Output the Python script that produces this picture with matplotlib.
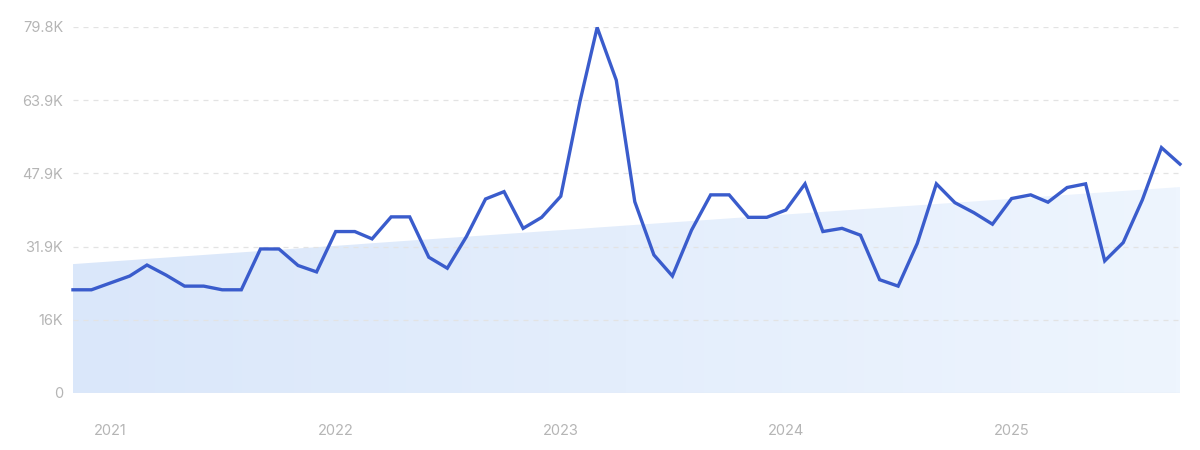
import numpy as np
import pandas as pd
import matplotlib
matplotlib.use('Agg')
from matplotlib import pyplot as plt
from matplotlib.colors import LinearSegmentedColormap
import matplotlib.dates as mdates

# monthly values, Nov 2020 .. Oct 2025
months = pd.date_range('2020-11-01', periods=60, freq='MS')
values = [
    22.5, 22.5, 24.0, 25.5, 27.9, 25.7, 23.3, 23.3, 22.5, 22.5,
    31.4, 31.4, 27.8, 26.4, 35.2, 35.2, 33.6, 38.4, 38.4, 29.6,
    27.2, 34.1, 42.3, 43.9, 35.9, 38.3, 42.9, 63.5, 79.7, 68.2,
    41.7, 30.1, 25.5, 35.5, 43.2, 43.2, 38.3, 38.3, 39.9, 45.6,
    35.2, 35.9, 34.4, 24.7, 23.3, 32.6, 45.6, 41.5, 39.3, 36.8,
    42.4, 43.2, 41.6, 44.8, 45.6, 28.8, 32.8, 42.1, 53.5, 49.9,
]
values = np.array(values) * 1000
# trend band start / end values
trend = [28100, 44900]
yticks = [0, 15960, 31920, 47880, 63840, 79800]
ytick_labels = ['0', '16K', '31.9K', '47.9K', '63.9K', '79.8K']
years = ['2021', '2022', '2023', '2024', '2025']

plt.rcParams['font.family'] = ['Inter', 'DejaVu Sans']

fig = plt.figure(figsize=(12, 4.5), dpi=100)
ax = fig.add_axes([0.0608, 0.1267, 0.9225, 0.8133])

x = mdates.date2num(months.to_pydatetime())
tr = np.linspace(trend[0], trend[1], len(x))

# gradient fill under trend line
poly = ax.fill_between(x, 0, tr, color='none', lw=0)
cmap = LinearSegmentedColormap.from_list('g', ['#dae7fa', '#eef5fe'])
grad = np.linspace(0, 1, 256).reshape(1, -1)
im = ax.imshow(grad, cmap=cmap, aspect='auto', origin='lower',
               extent=[x[0], x[-1], 0, trend[1]], zorder=1)
im.set_clip_path(poly.get_paths()[0], transform=ax.transData)

ax.plot(x, values, color='#3a5ccc', lw=2.4, zorder=3, clip_on=False,
        solid_joinstyle='miter')

ax.set_xlim(x[0], x[-1])
ax.set_ylim(0, 79800)
ax.set_yticks(yticks)
ax.set_yticklabels(ytick_labels)
for yv in yticks[1:]:
    ax.axhline(yv, color='#e3e3e3', lw=0.9, ls=(0, (4, 4)), zorder=2)
ax.axhline(0, color='#e4ebf6', lw=1, zorder=2)

ax.set_xticks([mdates.date2num(pd.Timestamp(y + '-01-01')) for y in years])
ax.set_xticklabels(years)

ax.tick_params(axis='both', length=0, colors='#b5b5b5', labelsize=10.5)
ax.tick_params(axis='y', pad=7)
ax.tick_params(axis='x', pad=22)
for s in ax.spines.values():
    s.set_visible(False)

fig.savefig('out.png', dpi=100, facecolor='white')
